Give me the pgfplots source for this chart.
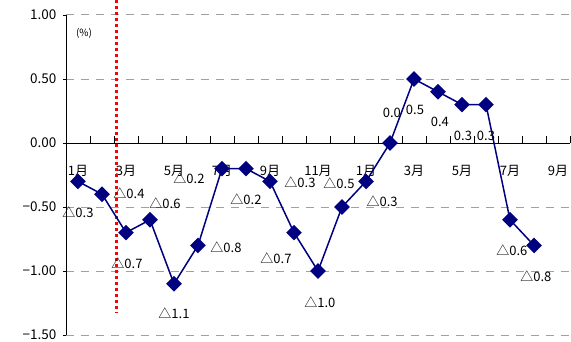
\documentclass[border=0pt]{standalone}
\usepackage{pgfplots}
\pgfplotsset{compat=1.18}
\usepackage{fontspec}
\setmainfont{Noto Sans CJK JP}
\definecolor{navyline}{RGB}{0,0,128}
\definecolor{gridgray}{RGB}{160,160,160}
\begin{document}
\begin{tikzpicture}
\begin{axis}[
  scale only axis, width=504pt, height=320pt,
  xmin=0.5, xmax=21.5, ymin=-1.5, ymax=1,
  axis x line=middle, axis y line=left,
  axis line style={-, black, line width=0.8pt},
  clip=false,
  /pgf/number format/assume math mode=true,
  xtick={1,...,21},
  xticklabels={1月,,3月,,5月,,7月,,9月,,11月,,1月,,3月,,5月,,7月,,9月},
  xticklabel style={anchor=north, yshift=-17pt, font=\fontsize{13}{15}\selectfont},
  major x tick style={draw=none},
  ytick={-1.5,-1,-0.5,0,0.5,1},
  yticklabels={−1.50,−1.00,−0.50,0.00,0.50,1.00},
  yticklabel style={font=\fontsize{13.5}{15}\selectfont, xshift=-4pt},
  major y tick style={draw=none},
  ymajorgrids,
  grid style={gridgray, line width=1pt, dash pattern=on 8pt off 7pt},
]
\addplot[red, line width=3pt, dash pattern=on 3pt off 3pt] coordinates {(2.625,1.117) (2.625,-1.33)};
\pgfplotsinvokeforeach{1.5,2.5,3.5,4.5,5.5,6.5,7.5,8.5,9.5,10.5,11.5,12.5,13.5,14.5,15.5,16.5,17.5,18.5,19.5,20.5,21.5}{
  \draw[black, line width=0.8pt] (axis cs:#1,0) -- ++(0pt,7pt);
}
\pgfplotsinvokeforeach{-1.5,-1,-0.5,0,0.5,1}{
  \draw[black, line width=0.8pt] (axis cs:0.5,#1) -- ++(-3pt,0pt);
}
\addplot[navyline, line width=1.5pt, mark=square*, mark size=4.8pt,
  mark options={rotate=45, fill=navyline, draw=navyline, solid}]
  coordinates {(1,-0.3)(2,-0.4)(3,-0.7)(4,-0.6)(5,-1.1)(6,-0.8)(7,-0.2)(8,-0.2)(9,-0.3)(10,-0.7)(11,-1.0)(12,-0.5)(13,-0.3)(14,0.0)(15,0.5)(16,0.4)(17,0.3)(18,0.3)(19,-0.6)(20,-0.8)};
\begin{scope}[every node/.style={font=\fontsize{13}{15}\selectfont, inner sep=0pt}]
\node at (axis cs:1.0,-0.539) {△0.3};
\node at (axis cs:3.125,-0.391) {△0.4};
\node at (axis cs:3.04,-0.938) {△0.7};
\node at (axis cs:4.625,-0.469) {△0.6};
\node at (axis cs:5.0,-1.328) {△1.1};
\node at (axis cs:5.625,-0.273) {△0.2};
\node at (axis cs:7.167,-0.8125) {△0.8};
\node at (axis cs:8.0,-0.4375) {△0.2};
\node at (axis cs:10.25,-0.305) {△0.3};
\node at (axis cs:9.25,-0.9) {△0.7};
\node at (axis cs:11.875,-0.3125) {△0.5};
\node at (axis cs:11.08,-1.242) {△1.0};
\node at (axis cs:13.67,-0.453) {△0.3};
\node at (axis cs:14.08,0.234) {0.0};
\node at (axis cs:15.04,0.258) {0.5};
\node at (axis cs:16.08,0.164) {0.4};
\node at (axis cs:17.04,0.055) {0.3};
\node at (axis cs:18.0,0.055) {0.3};
\node at (axis cs:19.08,-0.836) {△0.6};
\node at (axis cs:20.08,-1.039) {△0.8};
\end{scope}
\node[font=\fontsize{10}{12}\selectfont, inner sep=0pt] at (axis cs:1.25,0.859) {(\%)};
\coordinate (bl) at (rel axis cs:0,0);
\coordinate (tr) at (rel axis cs:1,1);
\end{axis}
\pgfresetboundingbox
\path[use as bounding box] ([shift={(-66pt,-6pt)}]bl) rectangle ([shift={(1pt,15pt)}]tr);
\end{tikzpicture}
\end{document}
